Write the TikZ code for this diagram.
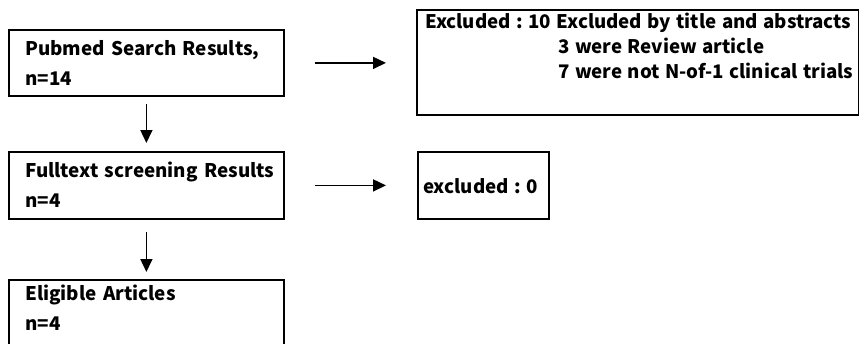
\documentclass[tikz,border=0pt]{standalone}
\usepackage{fontspec}
\setmainfont{Noto Sans CJK KR}
\usetikzlibrary{arrows.meta,positioning}

\tikzset{
	box/.style={draw,line width=1.8pt,inner sep=0pt,anchor=north west},
	boxtext/.style={inner sep=0pt,anchor=base west,align=left,text width=440pt,
		font=\fontsize{18.8}{30}\selectfont\bfseries},
	arr/.style={line width=1.6pt,-{Triangle[length=13pt,width=12pt]}}
}

\begin{document}
\frenchspacing
\begin{tikzpicture}[x=1pt,y=-1pt]
	\useasboundingbox (0,0) rectangle (859,343);
	\clip (0,0) rectangle (859,343);
	\node[box,minimum width=275pt,minimum height=66pt] (search) at (8,29) {};
	\node[box,minimum width=442pt,minimum height=105pt] (excl) at (416,9) {};
	\node[box,minimum width=275pt,minimum height=67pt] (full) at (8,151) {};
	\node[box,minimum width=131pt,minimum height=67pt] (zero) at (417,151) {};
	\node[box,minimum width=275pt,minimum height=66pt] (elig) at (8,279) {};
	
	\node[boxtext] (searchtext) at ([xshift=17pt,yshift=-26pt]search.north west)
		{Pubmed Search Results,\\n=14};
	\node[boxtext,font=\fontsize{18.7}{25}\selectfont\bfseries] (excltext) at ([xshift=9pt,yshift=-19pt]excl.north west)
		{\spaceskip=5.5pt\relax Excluded : 10 Excluded by title and abstracts\\
		\hspace*{133pt}3 were Review article\\
		\hspace*{133pt}7 were not N-of-1 clinical trials};
	\node[boxtext,font=\fontsize{18.7}{25}\selectfont\bfseries] (zerotext) at ([xshift=6pt,yshift=-42pt]zero.north west)
		{\spaceskip=5.5pt\relax excluded : 0};
	\node[boxtext] (fulltext) at ([xshift=17pt,yshift=-26pt]full.north west)
		{Fulltext screening Results\\n=4};
	\node[boxtext] (eligtext) at ([xshift=17pt,yshift=-21pt]elig.north west)
		{Eligible Articles\\n=4};
	
	\draw[arr,shorten <=30pt,shorten >=30pt] (search.east) -- (search.east -| excl.west);
	\draw[arr,shorten <=7pt,shorten >=8pt] (search.south) -- (full.north);
	\draw[arr,shorten <=30pt,shorten >=31pt] (full.east) -- (zero.west);
	\draw[arr,shorten <=12pt,shorten >=7pt] (full.south) -- (elig.north);
\end{tikzpicture}
\end{document}
